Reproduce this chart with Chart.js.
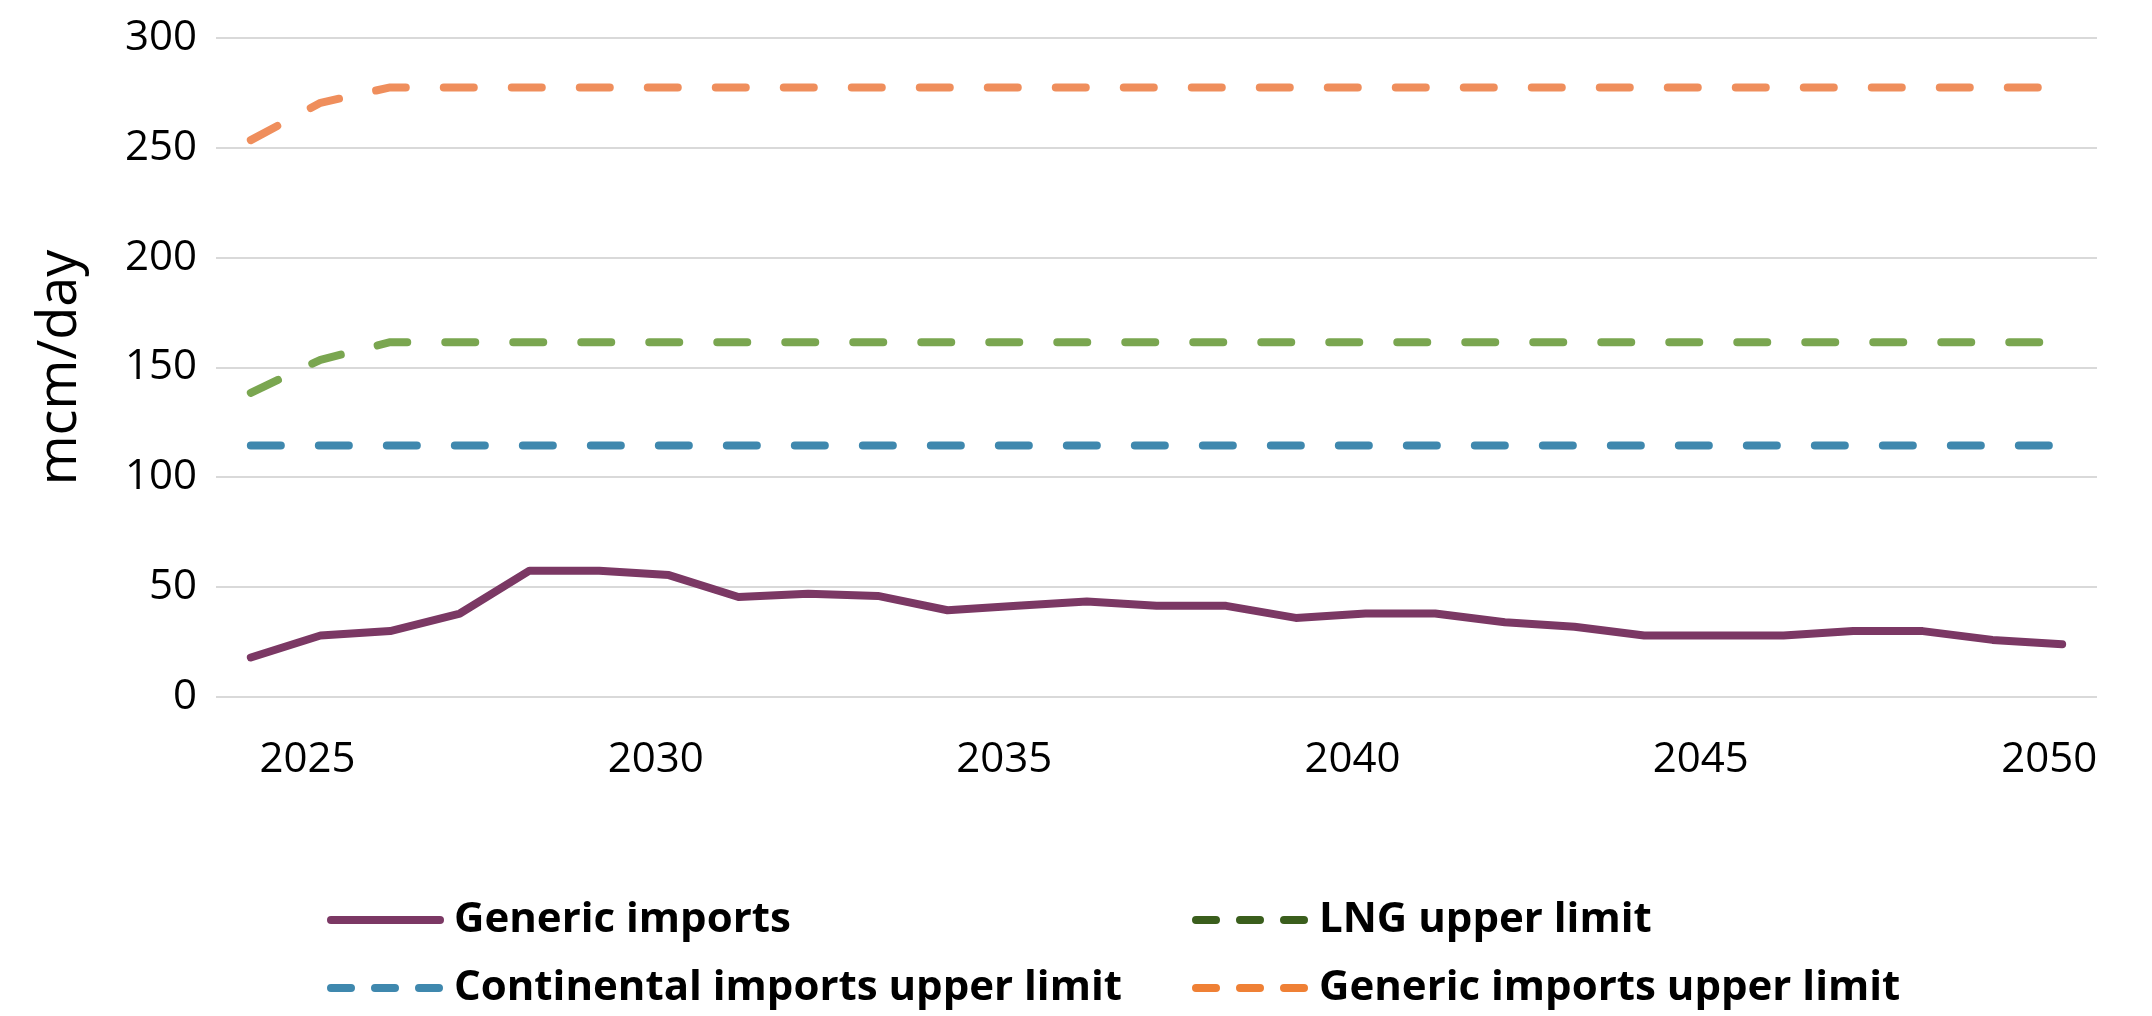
<!DOCTYPE html>
<html>
<head>
<meta charset="utf-8">
<script src="https://cdn.jsdelivr.net/npm/chart.js@4.4.0/dist/chart.umd.min.js"></script>
<style>
  html, body { margin: 0; padding: 0; background: #ffffff; }
  #wrap { width: 2152px; height: 1016px; position: relative; background: #ffffff; }
</style>
</head>
<body>
<div id="wrap"><canvas id="c" width="2152" height="1016"></canvas></div>
<script>
// ---- Data ----
const years = ['2024','2025','2026','2027','2028','2029','2030','2031','2032','2033','2034','2035','2036','2037','2038','2039','2040','2041','2042','2043','2044','2045','2046','2047','2048','2049','2050'];
const xTickLabels = ['2025','2030','2035','2040','2045','2050'];
const yTicks = [0, 50, 100, 150, 200, 250, 300];

const genericImports = [18, 28, 30, 38, 57.5, 57.5, 55.5, 45.5, 47, 46, 39.5, 41.5, 43.5, 41.5, 41.5, 36, 38, 38, 34, 32, 28, 28, 28, 30, 30, 26, 24];
const lngUpperLimit = [138.5, 153.5, 161.5, 161.5, 161.5, 161.5, 161.5, 161.5, 161.5, 161.5, 161.5, 161.5, 161.5, 161.5, 161.5, 161.5, 161.5, 161.5, 161.5, 161.5, 161.5, 161.5, 161.5, 161.5, 161.5, 161.5, 161.5];
const continentalUpperLimit = [114.5, 114.5, 114.5, 114.5, 114.5, 114.5, 114.5, 114.5, 114.5, 114.5, 114.5, 114.5, 114.5, 114.5, 114.5, 114.5, 114.5, 114.5, 114.5, 114.5, 114.5, 114.5, 114.5, 114.5, 114.5, 114.5, 114.5];
const genericUpperLimit = [253.5, 270.5, 277.5, 277.5, 277.5, 277.5, 277.5, 277.5, 277.5, 277.5, 277.5, 277.5, 277.5, 277.5, 277.5, 277.5, 277.5, 277.5, 277.5, 277.5, 277.5, 277.5, 277.5, 277.5, 277.5, 277.5, 277.5];

const seriesNames = ['Generic imports', 'LNG upper limit', 'Continental imports upper limit', 'Generic imports upper limit'];
const yAxisTitle = 'mcm/day';

// ---- Styles ----
const lineColors = ['#7b3864', '#7aa650', '#3f88ae', '#ef8e5c'];
const legendColors = ['#7b3864', '#3a5e1c', '#3f88ae', '#ef8035'];
const FONT = "'Open Sans', 'Noto Sans', sans-serif";

const dashed = [30, 38];

const legendPlugin = {
  id: 'gridLegend',
  afterDraw(chart, args, opts) {
    const ctx = chart.ctx;
    const items = opts.items;
    ctx.save();
    items.forEach(it => {
      ctx.beginPath();
      ctx.lineWidth = 8;
      ctx.lineCap = 'round';
      ctx.strokeStyle = it.color;
      ctx.setLineDash(it.dash);
      ctx.moveTo(it.x + 4, it.y);
      ctx.lineTo(it.x + opts.sampleWidth - 4, it.y);
      ctx.stroke();
      ctx.setLineDash([]);
      ctx.fillStyle = '#000000';
      ctx.font = opts.font;
      ctx.textAlign = 'left';
      ctx.textBaseline = 'middle';
      ctx.fillText(it.label, it.x + opts.sampleWidth + opts.gap, it.y);
    });
    ctx.restore();
  }
};

const bgPlugin = {
  id: 'whiteBg',
  beforeDraw(chart) {
    const ctx = chart.ctx;
    ctx.save();
    ctx.fillStyle = '#ffffff';
    ctx.fillRect(0, 0, chart.width, chart.height);
    ctx.restore();
  }
};

function lineDs(label, data, color, dash) {
  return {
    label: label,
    data: data,
    borderColor: color,
    backgroundColor: color,
    borderWidth: 8,
    borderDash: dash,
    borderCapStyle: 'round',
    borderJoinStyle: 'round',
    pointRadius: 0,
    pointHoverRadius: 0,
    tension: 0,
    fill: false
  };
}

const chart = new Chart(document.getElementById('c'), {
  type: 'line',
  data: {
    labels: years,
    datasets: [
      lineDs(seriesNames[3], genericUpperLimit, lineColors[3], dashed),
      lineDs(seriesNames[1], lngUpperLimit, lineColors[1], dashed),
      lineDs(seriesNames[2], continentalUpperLimit, lineColors[2], dashed),
      lineDs(seriesNames[0], genericImports, lineColors[0], [])
    ]
  },
  options: {
    responsive: false,
    animation: false,
    devicePixelRatio: 1,
    layout: { padding: { top: 38, right: 55, bottom: 0, left: 0 } },
    plugins: {
      legend: { display: false },
      tooltip: { enabled: false },
      gridLegend: {
        sampleWidth: 117,
        gap: 10,
        font: "bold 42px " + FONT,
        items: [
          { label: seriesNames[0], color: legendColors[0], dash: [], x: 327, y: 920 },
          { label: seriesNames[1], color: legendColors[1], dash: [20, 24], x: 1192, y: 920 },
          { label: seriesNames[2], color: legendColors[2], dash: [20, 24], x: 327, y: 988 },
          { label: seriesNames[3], color: legendColors[3], dash: [20, 24], x: 1192, y: 988 }
        ]
      }
    },
    scales: {
      x: {
        offset: true,
        grid: { display: false, drawTicks: false },
        border: { display: false },
        ticks: {
          autoSkip: false,
          maxRotation: 0,
          padding: 38,
          labelOffset: -13,
          color: '#000000',
          font: { family: FONT, size: 42 },
          callback: function(value) {
            const lab = this.getLabelForValue(value);
            return xTickLabels.includes(lab) ? lab : '';
          }
        },
        afterFit(scale) { scale.height = 319; }
      },
      y: {
        min: 0,
        max: 300,
        afterBuildTicks(scale) { scale.ticks = yTicks.map(v => ({ value: v })); },
        grid: { color: '#d9d9d9', lineWidth: 2, drawTicks: true, tickLength: 14, tickColor: 'rgba(0,0,0,0)' },
        border: { display: false },
        ticks: {
          padding: 5,
          color: '#000000',
          font: { family: FONT, size: 42 }
        },
        title: {
          display: true,
          text: yAxisTitle,
          color: '#000000',
          font: { family: FONT, size: 54 },
          padding: { top: 28, bottom: 0 }
        },
        afterFit(scale) { scale.width = 216; }
      }
    }
  },
  plugins: [bgPlugin, legendPlugin]
});
</script>
</body>
</html>
